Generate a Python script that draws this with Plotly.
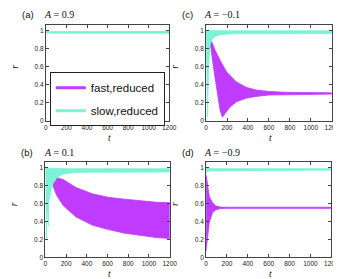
import plotly.graph_objects as go

# ---------------- data ----------------
# panel (a) A = 0.9
a_fast_t = [0, 10, 30, 60, 1200]
a_fast_up = [1.0, 0.984, 0.980, 0.980, 0.980]
a_fast_lo = [1.0, 0.976, 0.975, 0.975, 0.975]
a_slow_t = [0, 10, 30, 60, 1200]
a_slow_up = [1.0, 0.990, 0.986, 0.985, 0.985]
a_slow_lo = [1.0, 0.975, 0.970, 0.970, 0.970]

# panel (c) A = -0.1
c_fast_t_up = [30, 40, 56, 87, 134, 196, 290, 383, 477, 600, 757, 1200]
c_fast_up = [0.86, 0.88, 0.87, 0.78, 0.67, 0.54, 0.43, 0.37, 0.34, 0.325, 0.315, 0.31]
c_fast_t_lo = [30, 47, 72, 103, 134, 156, 181, 227, 290, 383, 477, 600, 800, 1200]
c_fast_lo = [0.84, 0.80, 0.58, 0.34, 0.115, 0.04, 0.08, 0.15, 0.21, 0.25, 0.27, 0.285, 0.293, 0.295]
c_slow_t_up = [0, 50, 200, 1200]
c_slow_up = [1.0, 0.997, 0.995, 0.995]
c_slow_t_lo = [0, 8, 14, 18, 25, 40, 60, 100, 150, 250, 1200]
c_slow_lo = [1.0, 0.5, 0.04, 0.3, 0.62, 0.85, 0.91, 0.94, 0.955, 0.962, 0.965]

# panel (b) A = 0.1
b_fast_t = [72, 109, 171, 296, 452, 608, 764, 919, 1075, 1200]
b_fast_up = [0.84, 0.89, 0.87, 0.78, 0.71, 0.67, 0.65, 0.63, 0.615, 0.61]
b_fast_lo = [0.80, 0.69, 0.58, 0.45, 0.36, 0.31, 0.27, 0.245, 0.22, 0.21]
b_slow_t_up = [0, 50, 200, 1200]
b_slow_up = [1.0, 0.995, 0.99, 0.99]
b_slow_t_lo = [0, 5, 9, 14, 20, 28, 31, 45, 62, 109, 171, 296, 1200]
b_slow_lo = [1.0, 0.6, 0.21, 0.45, 0.55, 0.35, 0.61, 0.7, 0.8, 0.89, 0.93, 0.95, 0.955]

# panel (d) A = -0.9
d_fast_t = [0, 5, 15, 31, 62, 92, 138, 200, 1200]
d_fast_up = [0.92, 0.90, 0.80, 0.68, 0.61, 0.575, 0.562, 0.560, 0.560]
d_fast_lo = [0.07, 0.10, 0.25, 0.39, 0.50, 0.53, 0.545, 0.547, 0.547]
d_slow_t_up = [0, 10, 50, 1200]
d_slow_up = [1.0, 1.0, 0.99, 0.99]
d_slow_t_lo = [0, 10, 25, 50, 1200]
d_slow_lo = [0.96, 0.95, 0.965, 0.972, 0.975]

x_ticks = [0, 200, 400, 600, 800, 1000, 1200]
y_ticks = [0, 0.2, 0.4, 0.6, 0.8, 1]
y_tick_text = ["0", "0.2", "0.4", "0.6", "0.8", "1"]

panel_labels = ["(a)", "(c)", "(b)", "(d)"]
panel_titles = ["<i>A</i> = 0.9", "<i>A</i> = \u22120.1", "<i>A</i> = 0.1", "<i>A</i> = \u22120.9"]
series_names = ["fast,reduced", "slow,reduced"]

FAST = "#bf3cff"
SLOW = "#7af3d6"

# ---------------- layout helpers ----------------
W, H = 341, 279


def px(x):
    return x / W


def py(y):
    return 1 - y / H


# pixel boxes of each panel: (left, right, top, bottom)
boxes = [(37, 164, 17, 114), (202, 331.5, 17, 114), (36.5, 164.5, 156, 252), (202, 331, 156, 252)]

fig = go.Figure()


def band(t_up, up, t_lo, lo, color, idx):
    xs = list(t_up) + list(t_lo)[::-1]
    ys = list(up) + list(lo)[::-1]
    sfx = "" if idx == 1 else str(idx)
    fig.add_trace(go.Scatter(
        x=xs, y=ys, mode="lines", fill="toself", fillcolor=color,
        line=dict(color=color, width=0.8), showlegend=False, hoverinfo="skip",
        xaxis="x" + sfx, yaxis="y" + sfx))


panels = [
    ((a_fast_t, a_fast_up, a_fast_t, a_fast_lo), (a_slow_t, a_slow_up, a_slow_t, a_slow_lo)),
    ((c_fast_t_up, c_fast_up, c_fast_t_lo, c_fast_lo), (c_slow_t_up, c_slow_up, c_slow_t_lo, c_slow_lo)),
    ((b_fast_t, b_fast_up, b_fast_t, b_fast_lo), (b_slow_t_up, b_slow_up, b_slow_t_lo, b_slow_lo)),
    ((d_fast_t, d_fast_up, d_fast_t, d_fast_lo), (d_slow_t_up, d_slow_up, d_slow_t_lo, d_slow_lo)),
]

for i, (fast, slow) in enumerate(panels, start=1):
    band(*fast, FAST, i)
    band(*slow, SLOW, i)

# legend entries
fig.add_trace(go.Scatter(x=[None], y=[None], mode="lines", name=series_names[0],
                         line=dict(color=FAST, width=3), legendgroup="f"))
fig.add_trace(go.Scatter(x=[None], y=[None], mode="lines", name=series_names[1],
                         line=dict(color=SLOW, width=3), legendgroup="s"))

axis_common = dict(showgrid=False, zeroline=False, showline=True, linecolor="#444444",
                   linewidth=1, mirror="ticks", ticks="inside", ticklen=3, tickwidth=0.8,
                   tickcolor="#444444", ticklabeloverflow="allow",
                   tickfont=dict(family="Liberation Sans", size=6.5, color="#222222"))

layout = dict(width=W, height=H, margin=dict(l=0, r=0, t=0, b=0),
              paper_bgcolor="white", plot_bgcolor="white",
              legend=dict(x=px(41), y=py(65), xanchor="left", yanchor="top",
                          bordercolor="#222222", borderwidth=1, bgcolor="white",
                          font=dict(family="Liberation Sans", size=11.5, color="#111111"),
                          tracegroupgap=4, traceorder="grouped", itemwidth=30))

annotations = []
for i, (l, r, t, b) in enumerate(boxes, start=1):
    sfx = "" if i == 1 else str(i)
    layout["xaxis" + sfx] = dict(axis_common, domain=[px(l), px(r)], range=[0, 1200],
                                 tickvals=x_ticks, anchor="y" + sfx)
    layout["yaxis" + sfx] = dict(axis_common, domain=[py(b), py(t)], range=[0, 1.062],
                                 tickvals=y_ticks, ticktext=y_tick_text, anchor="x" + sfx)
    # panel label and title
    annotations.append(dict(text=panel_labels[i - 1], x=px(l - 27), y=py(t - 10), xref="paper", yref="paper",
                            xanchor="left", yanchor="middle", showarrow=False,
                            font=dict(family="Liberation Sans", size=9.5, color="#111111")))
    annotations.append(dict(text=panel_titles[i - 1], x=px(l - 4), y=py(t - 10), xref="paper", yref="paper",
                            xanchor="left", yanchor="middle", showarrow=False,
                            font=dict(family="Liberation Serif", size=10, color="#111111")))
    # axis labels
    annotations.append(dict(text="<i>r</i>", x=px(l - 32), y=py((t + b) / 2 - 6), xref="paper", yref="paper",
                            xanchor="center", yanchor="middle", showarrow=False, textangle=-90,
                            font=dict(family="Liberation Serif", size=9.5, color="#111111")))
    annotations.append(dict(text="<i>t</i>", x=px((l + r) / 2 + 2), y=py(b + 17), xref="paper", yref="paper",
                            xanchor="center", yanchor="middle", showarrow=False,
                            font=dict(family="Liberation Serif", size=9.5, color="#111111")))

layout["annotations"] = annotations
fig.update_layout(**layout)
fig.write_html("out.html")
